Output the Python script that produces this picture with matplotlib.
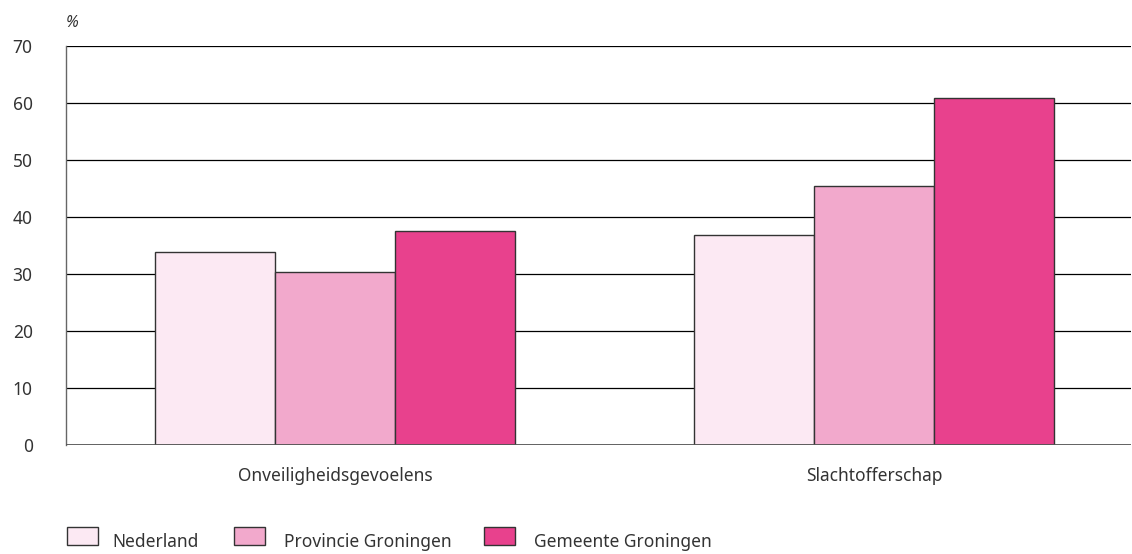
import matplotlib
matplotlib.use("Agg")
import matplotlib.pyplot as plt
from matplotlib.patches import Rectangle
import numpy as np

plt.rcParams['font.family'] = ['Noto Sans', 'DejaVu Sans']

categories = ["Onveiligheidsgevoelens", "Slachtofferschap"]
series = ["Nederland", "Provincie Groningen", "Gemeente Groningen"]
nederland = [33.9, 36.8]
provincie = [30.4, 45.4]
gemeente = [37.5, 60.9]
yticks = [0, 10, 20, 30, 40, 50, 60, 70]
colors = ["#FCE9F3", "#F2A9CC", "#E8418D"]
edge = "#333333"
txt = "#333333"

W, H = 1132, 554
fig = plt.figure(figsize=(W/100, H/100), dpi=100)
ax = fig.add_axes([66/W, 1-445/H, (1131-66)/W, (445-46)/H])

x = np.arange(len(categories))
bw = 0.2226
for i, (vals, c) in enumerate(zip([nederland, provincie, gemeente], colors)):
    ax.bar(x + (i-1)*bw, vals, width=bw, color=c, edgecolor=edge, linewidth=1.0, zorder=3)

ax.set_xlim(-0.499, 1.477)
ax.set_ylim(0, 70)
ax.set_yticks(yticks)
ax.set_yticklabels([str(v) for v in yticks], color=txt, fontsize=12.5, fontweight='light')
for yv in yticks[1:]:
    ax.axhline(yv, color="black", linewidth=0.9, zorder=1)
ax.axhline(0, color="#555555", linewidth=1.3, zorder=4)
ax.tick_params(axis='y', length=0, pad=24)
ax.set_xticks(x)
ax.set_xticklabels(categories, color=txt, fontsize=12.5, fontweight='light')
ax.tick_params(axis='x', length=0, pad=16)
for s in ["top", "right", "bottom"]:
    ax.spines[s].set_visible(False)
ax.spines["left"].set_color("#666666")
ax.spines["left"].set_linewidth(1.0)

fig.text(72/W, 1-23/H, "%", fontsize=11.5, style='italic', fontweight='light', color=txt, va='center', ha='center')

# legend
lx = [67, 234, 484]
tx = [112, 284, 534]
for c, l, px, ptx in zip(colors, series, lx, tx):
    fig.patches.append(Rectangle((px/W, 1-545/H), 31/W, 18/H, transform=fig.transFigure,
                                 facecolor=c, edgecolor=edge, linewidth=1.0))
    fig.text(ptx/W, 1-542/H, l, fontsize=12.5, fontweight='light', color=txt, va='center', ha='left')

fig.savefig("out.png", dpi=100)
